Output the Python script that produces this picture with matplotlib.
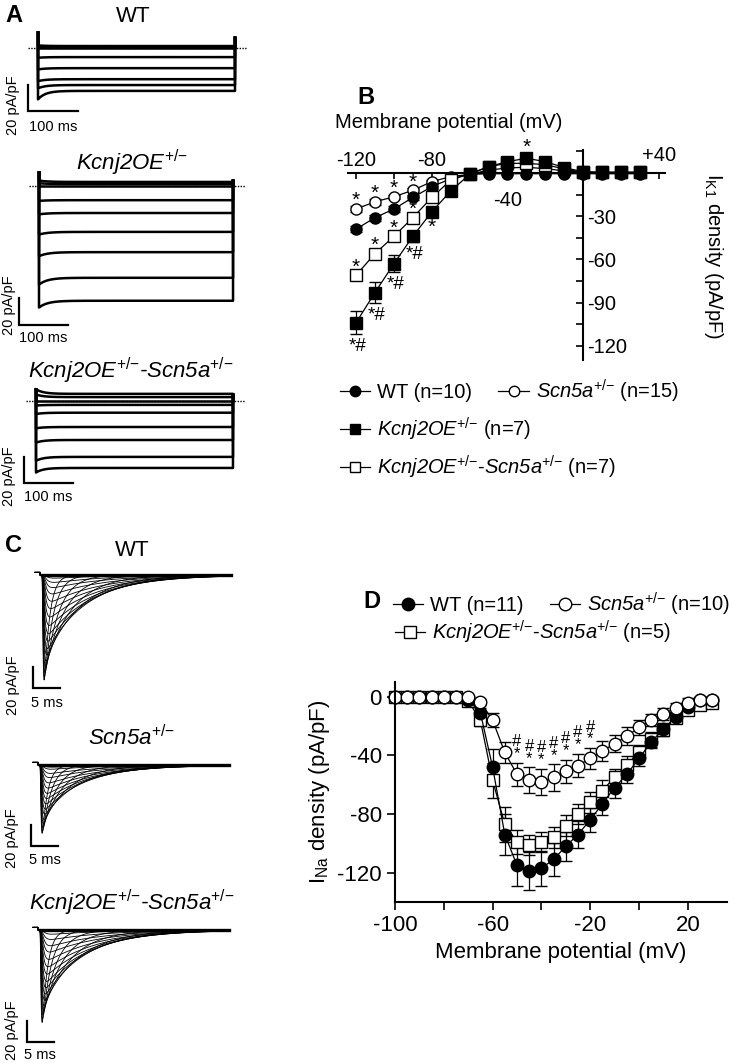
import numpy as np
import matplotlib
matplotlib.use('Agg')
import matplotlib.pyplot as plt
from matplotlib.lines import Line2D

plt.rcParams['font.family'] = ['Liberation Sans', 'DejaVu Sans']
plt.rcParams['mathtext.fontset'] = 'custom'
plt.rcParams['mathtext.rm'] = 'Liberation Sans'
plt.rcParams['mathtext.it'] = 'Liberation Sans:italic'
plt.rcParams['mathtext.sf'] = 'Liberation Sans:italic'
plt.rcParams['mathtext.bf'] = 'Liberation Sans:bold'

# ---------------- data ----------------
# B: IK1 current-voltage relation (pA/pF)
ik1_v = [-120, -110, -100, -90, -80, -70, -60, -50, -40, -30, -20, -10, 0, 10, 20, 30]
ik1_wt = [-39, -31, -25, -17, -9.5, -4, -1, -0.5, -0.5, -0.5, -0.5, -0.5, -0.5, -0.5, -0.5, -0.5]
ik1_wt_err = [2, 2, 2, 1.5, 1.5, 1, 1, 1, 1, 1, 1, 1, 1, 1, 1, 1]
ik1_scn = [-25, -20, -16.5, -12, -6, -2.5, -1, 2, 3.5, 4, 3, 1.5, 0.5, 0.3, 0.3, 0.3]
ik1_scn_err = [2, 2, 1.5, 1.5, 1, 1, 1, 1, 1, 1, 1, 1, 1, 1, 1, 1]
ik1_oe = [-104, -83, -63, -44, -27, -12.5, -1, 4.4, 7.9, 10.2, 7.9, 3.7, 0.9, 0.5, 0.5, 0.5]
ik1_oe_err = [8, 7.5, 6, 4, 3, 2, 1, 1, 1.5, 1.5, 1.5, 1, 1, 1, 1, 1]
ik1_oescn = [-71, -56, -44, -31, -17, -5, -0.5, 4.4, 6.7, 6.7, 5.8, 2.8, 0.5, 0.5, 0.5, 0.5]
ik1_oescn_err = [3, 3, 2.5, 2, 2, 1, 1, 1, 1, 1, 1, 1, 1, 1, 1, 1]

# D: INa current-voltage relation (pA/pF)
na_v = [-100, -95, -90, -85, -80, -75, -70, -65, -60, -55, -50, -45, -40, -35,
        -30, -25, -20, -15, -10, -5, 0, 5, 10, 15, 20, 25, 30]
na_wt = [0, 0, 0, 0, 0, 0, -2, -11, -48, -94, -115, -119, -117, -111,
         -102, -94, -84, -73, -62, -53, -42, -31, -22, -14, -7, -2, -2]
na_wt_err = [1, 1, 1, 1, 1, 1, 1, 3, 12, 14, 14, 13, 12, 11,
             10, 9, 8, 8, 7, 6, 5, 4, 4, 3, 3, 2, 2]
na_scn = [0, 0, 0, 0, 0, 0, 0, -3.5, -16, -38, -53, -57, -58, -55,
          -51, -47, -42, -37, -32, -27, -21, -16, -12, -7.5, -4, -2, -2]
na_scn_err = [1, 1, 1, 1, 1, 1, 1, 2, 5, 7, 8, 9, 9, 9,
              8, 8, 7, 7, 6, 6, 5, 4, 4, 3, 3, 2, 2]
na_oescn = [0, 0, 0, 0, 0, 0, -3, -16, -57, -87, -99, -101, -99, -96,
            -88, -80, -72, -64, -55, -46.5, -38, -29, -22.5, -14.5, -9, -5.5, -4]
na_oescn_err = [1, 1, 1, 1, 1, 1, 1, 4, 12, 12, 8, 7, 7, 7,
                7, 7, 7, 7, 6, 6, 5, 5, 4, 3, 3, 2, 2]
na_sig_v = [-50, -45, -40, -35, -30, -25, -20]

# A: IK1 sweeps, steady level / initial level (pA/pF)
a_wt_level = [1.5, 0.7, 0, -7, -15.5, -24, -28.5, -33]
a_wt_start = [2, 1, 0, -7.5, -16.5, -25.5, -31, -39.5]
a_oe_level = [3, 1.5, 0, -10.5, -20, -34, -49, -68, -85]
a_oe_start = [4, 2, 0, -11, -21, -36, -52, -73, -90]
a_oescn_level = [5.5, 3, 0, -3, -9, -20, -30, -43, -51.5]
a_oescn_start = [9, 5, 0, -3.5, -10, -21, -32, -46, -55]

# C: INa sweeps, peak (pA/pF), activation and inactivation time constants (ms)
c_wt_peak = [-100, -97, -93, -88, -82, -76, -70, -63, -56, -48, -40, -32, -25, -18, -12, -7, -3]
c_wt_tm = [0.12, 0.13, 0.14, 0.15, 0.17, 0.19, 0.21, 0.24, 0.27, 0.3, 0.34, 0.38, 0.42, 0.46, 0.5, 0.55, 0.6]
c_wt_th = [1.0, 1.6, 2.5, 3.6, 5.0, 6.5, 7.5, 8.0, 8.5, 9.0, 9.3, 9.6, 9.8, 10, 10, 10, 10]
c_scn_peak = [-65, -63, -60, -56, -52, -47, -42, -37, -32, -27, -22, -17, -12, -8, -4, -2]
c_scn_tm = [0.12, 0.13, 0.14, 0.15, 0.17, 0.19, 0.21, 0.24, 0.27, 0.3, 0.34, 0.38, 0.42, 0.46, 0.5, 0.55]
c_scn_th = [1.0, 1.6, 2.5, 3.6, 5.0, 6.5, 7.5, 8.0, 8.5, 9.0, 9.3, 9.6, 9.8, 10, 10, 10]
c_oescn_peak = [-88, -85, -81, -77, -72, -67, -61, -55, -49, -42, -35, -28, -21, -15, -9, -4]
c_oescn_tm = [0.12, 0.13, 0.14, 0.15, 0.17, 0.19, 0.21, 0.24, 0.27, 0.3, 0.34, 0.38, 0.42, 0.46, 0.5, 0.55]
c_oescn_th = [1.0, 1.6, 2.5, 3.6, 5.0, 6.5, 7.5, 8.0, 8.5, 9.0, 9.3, 9.6, 9.8, 10, 10, 10]

# ---------------- figure ----------------
W, H = 734, 1063
fig = plt.figure(figsize=(W / 100, H / 100), dpi=100)
FS = 14.5


def ftext(x, y, s, **kw):
    return fig.text(x / W, 1 - y / H, s, **kw)


def px_axes(x0, y0, x1, y1):
    return fig.add_axes([x0 / W, 1 - y1 / H, (x1 - x0) / W, (y1 - y0) / H])


def trace_axes(box, t0_px, base_px, px_ms, px_unit):
    x0, y0, x1, y1 = box
    ax = px_axes(*box)
    ax.set_xlim((x0 - t0_px) / px_ms, (x1 - t0_px) / px_ms)
    ax.set_ylim((base_px - y1) / px_unit, (base_px - y0) / px_unit)
    ax.axis('off')
    return ax


def scale_bar(ax, t, i, dt, di):
    ax.plot([t, t, t + dt], [i + di, i, i], color='k', lw=1.6,
            clip_on=False, solid_joinstyle='miter')


def kir_sweeps(ax, levels, starts, dur, tau, top, end_top):
    t = np.linspace(0, dur, 400)
    for lev, st in zip(levels, starts):
        cur = lev + (st - lev) * np.exp(-t / tau)
        ax.plot(np.r_[0, t, dur], np.r_[top, cur, end_top], color='k', lw=1.8)
    ax.hlines(0, -0.05 * dur, dur * 1.06, colors='k', lw=1.0, linestyles=(0, (1, 1)))


def na_sweeps(ax, peaks, tms, ths, dur):
    t = np.linspace(0, dur, 900)
    for pk, tm, th in zip(peaks, tms, ths):
        s = (1 - np.exp(-t / tm)) ** 3 * np.exp(-t / th)
        ax.plot(np.r_[-1.3, -0.35, -0.35, t], np.r_[2.5, 2.5, 0, pk * s / s.max()],
                color='k', lw=0.6)
    ax.plot([0, dur], [0, 0], color='k', lw=2.4)


SUP = r'$^{{+}/{-}}$'
OE = r'$\mathsf{Kcnj2OE}$' + SUP
SCN = r'$\mathsf{Scn5a}$' + SUP
OESCN = OE + '-' + SCN

# panel letters
for (x, y, s) in [(14, 15, 'A'), (366, 97, 'B'), (13, 545, 'C'), (372, 602, 'D')]:
    ftext(x, y, s, fontsize=17, fontweight='bold', ha='center', va='center')

# ---- Panel A ----
axA1 = trace_axes((0, 25, 260, 140), 38, 48, 0.5, 1.3)
kir_sweeps(axA1, a_wt_level, a_wt_start, 394, 15, 12, 8)
scale_bar(axA1, -20, -48.5, 100, 20)
ftext(133, 16, 'WT', fontsize=16, ha='center', va='center')
ftext(13, 105, '20 pA/pF', fontsize=10.5, rotation=90, ha='center', va='center')
ftext(53, 127, '100 ms', fontsize=10.5, ha='center', va='center')

axA2 = trace_axes((0, 170, 260, 330), 39, 186, 0.49, 1.35)
kir_sweeps(axA2, a_oe_level, a_oe_start, 396, 18, 10, 4)
scale_bar(axA2, -41, -103, 100, 20)
ftext(132, 163, OE, fontsize=16, ha='center', va='center', style='italic')
ftext(9, 305, '20 pA/pF', fontsize=10.5, rotation=90, ha='center', va='center')
ftext(43, 338, '100 ms', fontsize=10.5, ha='center', va='center')

axA3 = trace_axes((0, 380, 260, 490), 36, 401, 0.49, 1.3)
kir_sweeps(axA3, a_oescn_level, a_oescn_start, 402, 15, 9, 5)
scale_bar(axA3, -24.5, -63, 100, 20)
ftext(131, 371, OESCN, fontsize=16, ha='center', va='center', style='italic')
ftext(9, 476, '20 pA/pF', fontsize=10.5, rotation=90, ha='center', va='center')
ftext(48, 497, '100 ms', fontsize=10.5, ha='center', va='center')

# ---- Panel C ----
axC1 = trace_axes((0, 560, 260, 700), 42, 575, 5.4, 1.05)
na_sweeps(axC1, c_wt_peak, c_wt_tm, c_wt_th, 35)
scale_bar(axC1, -1.67, -107.6, 5, 20)
ftext(132, 550, 'WT', fontsize=16, ha='center', va='center')
ftext(13, 685, '20 pA/pF', fontsize=10.5, rotation=90, ha='center', va='center')
ftext(47, 703, '5 ms', fontsize=10.5, ha='center', va='center')

axC2 = trace_axes((0, 750, 260, 850), 40, 765, 5.4, 1.05)
na_sweeps(axC2, c_scn_peak, c_scn_tm, c_scn_th, 35)
scale_bar(axC2, -1.67, -77, 5, 20)
ftext(132, 738, SCN, fontsize=16, ha='center', va='center', style='italic')
ftext(12, 838, '20 pA/pF', fontsize=10.5, rotation=90, ha='center', va='center')
ftext(45, 860, '5 ms', fontsize=10.5, ha='center', va='center')

axC3 = trace_axes((0, 915, 260, 1045), 40, 930, 5.4, 1.05)
na_sweeps(axC3, c_oescn_peak, c_oescn_tm, c_oescn_th, 35)
scale_bar(axC3, -2.4, -107, 5, 20)
ftext(132, 903, OESCN, fontsize=16, ha='center', va='center', style='italic')
ftext(12, 1030, '20 pA/pF', fontsize=10.5, rotation=90, ha='center', va='center')
ftext(40, 1055, '5 ms', fontsize=10.5, ha='center', va='center')

# ---- Panel B ----
axB = px_axes(340, 145, 700, 365)
x0B, sxB, y0B, syB = 583.2, 1.893, 173, 1.44
axB.set_xlim((340 - x0B) / sxB, (700 - x0B) / sxB)
axB.set_ylim((y0B - 365) / syB, (y0B - 145) / syB)
for sp in ['left', 'top']:
    axB.spines[sp].set_visible(False)
axB.spines['right'].set_position(('data', 0))
axB.spines['bottom'].set_position(('data', 0))
axB.spines['right'].set_bounds(-130, 16)
axB.spines['bottom'].set_bounds(-124, 43)
for sp in ['right', 'bottom']:
    axB.spines[sp].set_linewidth(1.5)
axB.patch.set_alpha(0)
axB.yaxis.tick_right()
axB.set_yticks([-120, -90, -60, -30])
axB.set_yticks([-105, -75, -45, -15, 15], minor=True)
axB.set_yticklabels(['-120', '-90', '-60', '-30'])
axB.tick_params(axis='y', which='both', direction='in', length=5, width=1.2,
                labelsize=FS, pad=3)
axB.set_xticks([-120, -100, -80, -60, -40, -20, 20, 40])
axB.set_xticklabels([])
axB.tick_params(axis='x', direction='out', length=4, width=1.2)
for v, yy, s in [(-120, 9, '-120'), (-80, 9, '-80'), (-40, -19, '-40'), (40, 12, '+40')]:
    axB.text(v, yy, s, fontsize=FS, ha='center', va='center')

mk = dict(color='k', lw=0.9, elinewidth=0.9, capsize=4.3, capthick=0.9, ms=8, mew=1.0)
axB.errorbar(ik1_v, ik1_scn, yerr=ik1_scn_err, fmt='-o', mfc='white', mec='k', **mk)
axB.errorbar(ik1_v, ik1_wt, yerr=ik1_wt_err, fmt='-o', mfc='k', mec='k', **mk)
axB.errorbar(ik1_v, ik1_oescn, yerr=ik1_oescn_err, fmt='-s', mfc='white', mec='k', **mk)
axB.errorbar(ik1_v, ik1_oe, yerr=ik1_oe_err, fmt='-s', mfc='k', mec='k', **mk)

star_kw = dict(textcoords='offset points', ha='center', va='center', fontsize=15)
for i in range(4):
    axB.annotate('*', (ik1_v[i], ik1_scn[i]), xytext=(0, 6), **star_kw)
    axB.annotate('*', (ik1_v[i], ik1_oescn[i]), xytext=(0, 6), **star_kw)
    axB.annotate('*#', (ik1_v[i], ik1_oe[i] - ik1_oe_err[i]), xytext=(1, -9),
                 textcoords='offset points', ha='center', va='center', fontsize=13.5)
axB.annotate('*', (ik1_v[4], ik1_oe[4]), xytext=(0, -11), **star_kw)
axB.annotate('*', (ik1_v[9], ik1_oe[9]), xytext=(0, 8), **star_kw)

ftext(449, 122, 'Membrane potential (mV)', fontsize=FS, ha='center', va='center')
ftext(713, 256, r'I$_{\mathregular{K1}}$ density (pA/pF)', fontsize=FS,
      rotation=-90, ha='center', va='center')

hwt = Line2D([], [], color='k', lw=0.9, marker='o', mfc='k', mec='k', ms=7.5)
hscn = Line2D([], [], color='k', lw=0.9, marker='o', mfc='white', mec='k', ms=7.5)
hoe = Line2D([], [], color='k', lw=0.9, marker='s', mfc='k', mec='k', ms=7.5)
hoescn = Line2D([], [], color='k', lw=0.9, marker='s', mfc='white', mec='k', ms=7.5)
leg_kw = dict(frameon=False, borderpad=0, borderaxespad=0, handlelength=1.5,
              handletextpad=0.35, columnspacing=1.3, loc='center left', fontsize=FS)
fig.legend([hwt, hscn], ['WT (n=10)', SCN + ' (n=15)'], ncol=2,
           bbox_to_anchor=(340 / W, 1 - 391 / H), **leg_kw)
fig.legend([hoe], [OE + ' (n=7)'], bbox_to_anchor=(340 / W, 1 - 429 / H), **leg_kw)
fig.legend([hoescn], [OESCN + ' (n=7)'], bbox_to_anchor=(340 / W, 1 - 467 / H), **leg_kw)

# ---- Panel D ----
axD = px_axes(395, 682, 727, 902)
axD.set_xlim(-100, -100 + 332 / 2.44)
axD.set_ylim(-140, 10)
for sp in ['right', 'top']:
    axD.spines[sp].set_visible(False)
for sp in ['left', 'bottom']:
    axD.spines[sp].set_linewidth(1.5)
axD.set_xticks([-100, -80, -60, -40, -20, 0, 20])
axD.set_xticklabels(['-100', '', '-60', '', '-20', '', '20'])
axD.set_yticks([0, -40, -80, -120])
axD.set_yticklabels(['0', '-40', '-80', '-120'])
axD.tick_params(direction='out', length=6, width=1.2, labelsize=16)
axD.set_xlabel('Membrane potential (mV)', fontsize=16, labelpad=4)
axD.set_ylabel(r'I$_{\mathregular{Na}}$ density (pA/pF)', fontsize=16, labelpad=4)
axD.patch.set_alpha(0)

mkD = dict(color='k', lw=0.9, elinewidth=0.9, capsize=4.5, capthick=0.9, ms=9, mew=1.0,
           clip_on=False)
axD.errorbar(na_v, na_oescn, yerr=na_oescn_err, fmt='-s', mfc='white', mec='k', **mkD)
axD.errorbar(na_v, na_wt, yerr=na_wt_err, fmt='-o', mfc='k', mec='k', **mkD)
axD.errorbar(na_v, na_scn, yerr=na_scn_err, fmt='-o', mfc='white', mec='k', **mkD)

for v in na_sig_v:
    k = na_v.index(v)
    top = na_scn[k] + na_scn_err[k]
    axD.annotate('#\n*', (v, top), xytext=(0, 1), textcoords='offset points',
                 ha='center', va='bottom', fontsize=12, linespacing=0.75)

hwt2 = Line2D([], [], color='k', lw=0.9, marker='o', mfc='k', mec='k', ms=9)
hscn2 = Line2D([], [], color='k', lw=0.9, marker='o', mfc='white', mec='k', ms=9)
hoescn2 = Line2D([], [], color='k', lw=0.9, marker='s', mfc='white', mec='k', ms=9)
fig.legend([hwt2, hscn2], ['WT (n=11)', SCN + ' (n=10)'], ncol=2,
           bbox_to_anchor=(393 / W, 1 - 604 / H), **leg_kw)
fig.legend([hoescn2], [OESCN + ' (n=5)'], bbox_to_anchor=(395 / W, 1 - 632 / H), **leg_kw)

fig.savefig('out.png', dpi=100)
